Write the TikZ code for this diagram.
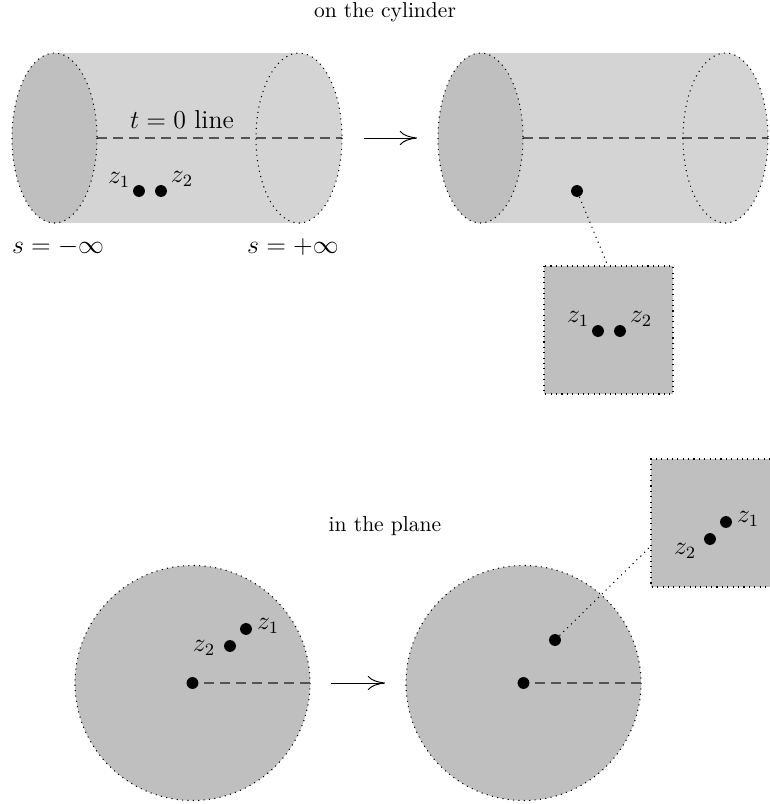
\documentclass[tikz,border=0pt]{standalone}
\usetikzlibrary{arrows.meta}
\definecolor{bodygray}{gray}{0.83}
\definecolor{capgray}{gray}{0.75}
\definecolor{dashgray}{gray}{0.33}
\begin{document}
\begin{tikzpicture}[x=0.464pt,y=-0.464pt,
  dot/.style={circle,fill=black,inner sep=0pt,minimum size=5.5pt},
  rim/.style={dotted,line width=0.5pt},
  tline/.style={dashgray,line width=0.7pt,dash pattern=on 4.6pt off 2.8pt},
  link/.style={dotted,line width=0.5pt},
  maparrow/.style={line width=0.45pt,-{To[length=8pt,width=6.6pt]}},
  lbl/.style={inner sep=0pt},
  big/.style={inner sep=0pt,font=\large}]
\useasboundingbox (0,0) rectangle (770,804);

% titles
\node[lbl] (t1) at (385,12) {on the cylinder};
\node[lbl] (t2) at (385,526) {in the plane};

% ---- cylinder 1
\fill[bodygray] (54.5,53) rectangle (299,223);
\fill[bodygray] (299,138) ellipse [x radius=43, y radius=85];
\draw[tline] (97,138) -- (342,138);
\draw[rim] (299,138) ellipse [x radius=43, y radius=85];
\fill[capgray] (54.5,138) ellipse [x radius=42.5, y radius=85];
\draw[rim] (54.5,138) ellipse [x radius=42.5, y radius=85];
\node[big] (tl) at (182,120) {$t=0$ line};
\node[dot] (a1) at (139,191) {};
\node[dot] (a2) at (161,191) {};
\node[big] (la1) at (119,180) {$z_1$};
\node[big] (la2) at (182,179) {$z_2$};
\node[big] (sm) at (58,247) {$s=-\infty$};
\node[big] (sp) at (293,247) {$s=+\infty$};

\coordinate (ar1s) at (364,138);
\coordinate (ar1e) at (417,138);
\draw[maparrow] (ar1s) -- (ar1e);

% ---- cylinder 2
\fill[bodygray] (480.5,53) rectangle (725.5,223);
\fill[bodygray] (725.5,138) ellipse [x radius=42.5, y radius=85];
\draw[tline] (523,138) -- (768,138);
\draw[rim] (725.5,138) ellipse [x radius=42.5, y radius=85];
\fill[capgray] (480.5,138) ellipse [x radius=42.5, y radius=85];
\draw[rim] (480.5,138) ellipse [x radius=42.5, y radius=85];
\node[dot] (b0) at (577,191) {};

% zoom box 1
\fill[capgray] (544,266) rectangle (673,394);
\draw[rim] (544,266) rectangle (673,394);
\coordinate (bx1) at (608,266);
\draw[link] (b0) -- (bx1);
\node[dot] (b1) at (598,331) {};
\node[dot] (b2) at (620,331) {};
\node[big] (lb1) at (578,319) {$z_1$};
\node[big] (lb2) at (641,319) {$z_2$};

% ---- disc 1
\fill[capgray] (192.5,683) circle [radius=117.5];
\draw[rim] (192.5,683) circle [radius=117.5];
\coordinate (c0e) at (310,683);
\coordinate (c0p) at (192.5,683);
\draw[tline] (c0e) -- (c0p);
\node[dot] (c0) at (192.5,683) {};
\node[dot] (c1) at (246,629) {};
\node[dot] (c2) at (230,646) {};
\node[big] (lc1) at (268,626) {$z_1$};
\node[big] (lc2) at (204,648) {$z_2$};

\coordinate (ar2s) at (331,683);
\coordinate (ar2e) at (385,683);
\draw[maparrow] (ar2s) -- (ar2e);

% ---- disc 2
\fill[capgray] (523.5,683) circle [radius=117.5];
\draw[rim] (523.5,683) circle [radius=117.5];
\coordinate (d0e) at (641,683);
\coordinate (d0p) at (523.5,683);
\draw[tline] (d0e) -- (d0p);
\node[dot] (d0) at (523.5,683) {};
\node[dot] (d3) at (555,640) {};

% zoom box 2 (runs off the right edge)
\fill[capgray] (651,459) rectangle (770,587);
\draw[rim] (770,459) -- (651,459) -- (651,587) -- (770,587);
\coordinate (bx2) at (651,546);
\draw[link] (d3) -- (bx2);
\node[dot] (e1) at (726,522) {};
\node[dot] (e2) at (710,539) {};
\node[big] (le1) at (748,519) {$z_1$};
\node[big] (le2) at (685,551) {$z_2$};
\end{tikzpicture}
\end{document}
